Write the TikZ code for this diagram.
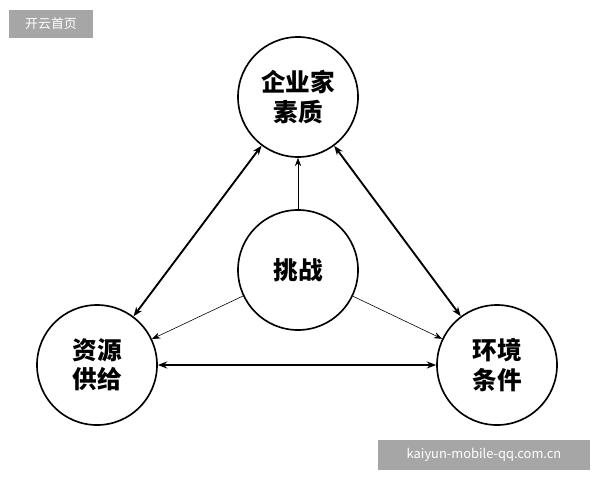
\documentclass[tikz,border=0pt]{standalone}
\usepackage{fontspec}
\setmainfont{Noto Sans CJK SC}
\newfontfamily\cjkbold[BoldFont={Noto Sans CJK SC Bold}]{Noto Sans CJK SC}
\usetikzlibrary{arrows.meta}
\begin{document}
\begin{tikzpicture}[x=0.03cm,y=-0.03cm,
  ball/.style={draw,line width=1.4pt,circle,minimum size=3.6cm,font=\fontsize{21}{25}\selectfont\bfseries,align=center},
  thick arrow/.style={line width=1.6pt,{Stealth[length=8pt]}-{Stealth[length=8pt]}},
  thin arrow/.style={line width=0.5pt,-{Stealth[length=7pt]}},
  tag/.style={fill=gray!70,text=white,font=\fontsize{11}{13}\selectfont,inner sep=0pt}]
\useasboundingbox (0,0) rectangle (600,480);
\node[tag,minimum width=2.5cm,minimum height=0.84cm] (logo) at (51,24) {开云首页};
\node[tag,minimum width=6.36cm,minimum height=0.9cm] (site) at (484,455) {kaiyun-mobile-qq.com.cn};

\node[ball] (qiye) at (298,97) {企业家\\素质};
\node[ball] (tz) at (298,270) {挑战};
\node[ball] (ziyuan) at (97,365) {资源\\供给};
\node[ball] (huanjing) at (497,365) {环境\\条件};

\draw[thick arrow] (qiye) -- (ziyuan);
\draw[thick arrow] (qiye) -- (huanjing);
\draw[thick arrow] (ziyuan) -- (huanjing);

\draw[thin arrow] (tz) -- (qiye);
\draw[thin arrow] (tz) -- (ziyuan);
\draw[thin arrow] (tz) -- (huanjing);
\end{tikzpicture}
\end{document}
